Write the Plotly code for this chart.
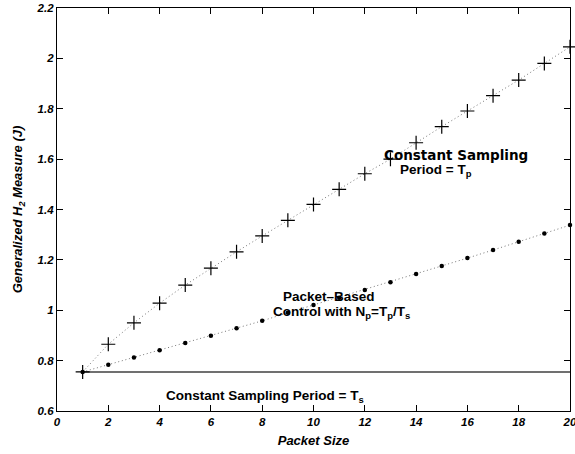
import plotly.graph_objects as go

packet_size = list(range(1, 21))
const_tp = [0.755, 0.865, 0.950, 1.028, 1.100, 1.167, 1.232, 1.295, 1.357, 1.420,
            1.480, 1.542, 1.600, 1.665, 1.729, 1.791, 1.852, 1.914, 1.980, 2.046]
packet_based = [0.755, 0.784, 0.812, 0.841, 0.870, 0.899, 0.929, 0.958, 0.990, 1.021,
                1.050, 1.080, 1.111, 1.144, 1.176, 1.207, 1.239, 1.272, 1.305, 1.338]
const_ts_x = [1, 20]
const_ts = [0.755, 0.755]

x_ticks = list(range(0, 21, 2))
y_ticks = [0.6, 0.8, 1.0, 1.2, 1.4, 1.6, 1.8, 2.0, 2.2]
y_tick_text = ["0.6", "0.8", "1", "1.2", "1.4", "1.6", "1.8", "2", "2.2"]

FONT = "Liberation Sans, Arial, sans-serif"
tickfont = dict(family=FONT, size=11.5, color="black", weight="bold", style="italic")
titlefont = dict(family=FONT, size=13, color="black", weight="bold", style="italic")
annfont = dict(family=FONT, size=13.5, color="black", weight="bold")
widefont = dict(family="DejaVu Sans", size=13.5, color="black", weight="bold")

fig = go.Figure()
dotline = dict(color="#777777", width=1, dash="1px,2.7px")
fig.add_trace(go.Scatter(x=packet_size, y=const_tp, mode="lines", line=dotline,
                         showlegend=False, hoverinfo="skip"))
fig.add_trace(go.Scatter(x=packet_size, y=packet_based, mode="lines", line=dotline,
                         showlegend=False, hoverinfo="skip"))
fig.add_trace(go.Scatter(x=const_ts_x, y=const_ts, mode="lines",
                         line=dict(color="#404040", width=1.5),
                         showlegend=False))
fig.add_trace(go.Scatter(x=packet_size, y=const_tp, mode="markers",
                         marker=dict(symbol="cross-thin", size=10,
                                     line=dict(color="black", width=1.2)),
                         showlegend=False, cliponaxis=False))
fig.add_trace(go.Scatter(x=packet_size, y=packet_based, mode="markers",
                         marker=dict(symbol="circle", size=4.5, color="black"),
                         showlegend=False, cliponaxis=False))

labels = [
    ("Constant Sampling", 12.68, 1.616, widefont),
    ("Period = T<sub>p</sub>", 13.31, 1.553, annfont),
    ("Packet\u2013Based", 8.74, 1.053, annfont),
    ("Control with N<sub>p</sub>=T<sub>p</sub>/T<sub>s</sub>", 8.35, 0.991, annfont),
    ("Constant Sampling Period = T<sub>s</sub>", 4.17, 0.656, annfont),
]
for txt, lx, ly, fnt in labels:
    fig.add_annotation(x=lx, y=ly, xref="x", yref="y", text=txt, showarrow=False,
                       font=fnt, xanchor="left", yanchor="middle")

fig.update_xaxes(range=[0, 20], tickvals=x_ticks, ticks="inside", ticklen=6,
                 tickwidth=1, tickcolor="black", showline=True, linecolor="black",
                 linewidth=1.3, mirror="ticks", showgrid=False, zeroline=False,
                 tickfont=tickfont, automargin=False, ticklabeloverflow="allow",
                 title=dict(text="Packet Size", font=titlefont, standoff=8))
fig.update_yaxes(range=[0.6, 2.2], tickvals=y_ticks, ticktext=y_tick_text,
                 ticks="inside", ticklen=6, tickwidth=1, tickcolor="black",
                 showline=True, linecolor="black", linewidth=1.3, mirror="ticks",
                 showgrid=False, zeroline=False, tickfont=tickfont, automargin=False,
                 ticklabeloverflow="allow",
                 title=dict(text="Generalized H<sub>2</sub> Measure (J)",
                            font=titlefont, standoff=10))

fig.update_layout(width=575, height=454, plot_bgcolor="white", paper_bgcolor="white",
                  margin=dict(l=57, r=5, t=8, b=43), showlegend=False)

fig.write_html("out.html", config={"displayModeBar": False},
               post_script="document.body.style.margin='0';document.body.style.overflow='hidden';")
